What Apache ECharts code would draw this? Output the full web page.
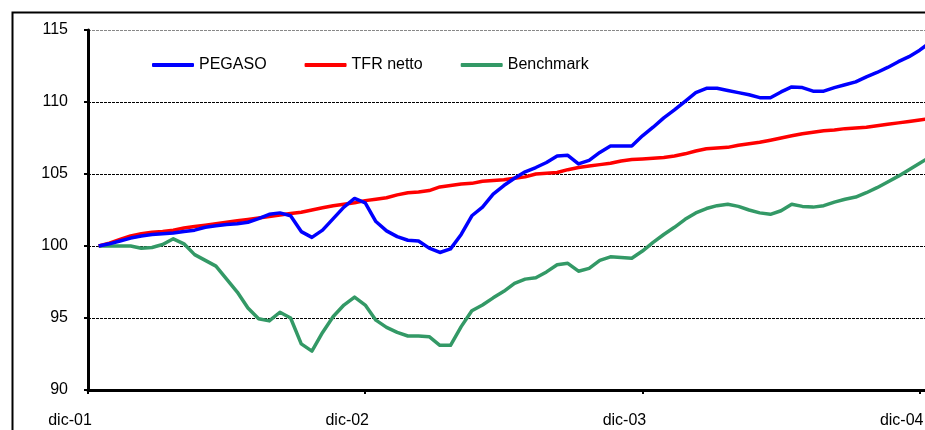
<!DOCTYPE html>
<html>
<head>
<meta charset="utf-8">
<script src="https://cdn.jsdelivr.net/npm/echarts@6/dist/echarts.min.js"></script>
<style>
  html, body { margin: 0; padding: 0; background: #fff; }
  #main { width: 925px; height: 430px; }
</style>
</head>
<body>
<div id="main"></div>
<script>
// weeks since dic-01
const weeks = [2,4,6,8,10,12,14,16,18,20,22,24,26,28,30,32,34,36,38,40,42,44,46,48,50,52,54,56,58,60,62,64,66,68,70,72,74,76,78,80,82,84,86,88,90,92,94,96,98,100,102,104,106,108,110,112,114,116,118,120,122,124,126,128,130,132,134,136,138,140,142,144,146,148,150,152,154,156,158];
const tickLabels = ['dic-01', 'dic-02', 'dic-03', 'dic-04'];
const seriesNames = ['PEGASO', 'TFR netto', 'Benchmark'];

const pegaso = [100.0,100.15,100.35,100.55,100.7,100.8,100.85,100.9,101.0,101.1,101.3,101.4,101.5,101.55,101.65,101.9,102.2,102.3,102.1,101.0,100.6,101.1,101.9,102.7,103.3,103.0,101.7,101.05,100.65,100.4,100.35,99.85,99.55,99.8,100.8,102.1,102.7,103.6,104.2,104.7,105.15,105.45,105.8,106.25,106.3,105.7,105.95,106.5,106.95,106.95,106.95,107.65,108.25,108.9,109.45,110.05,110.65,110.95,110.95,110.8,110.65,110.5,110.3,110.3,110.7,111.05,111.0,110.75,110.75,111.0,111.2,111.4,111.75,112.05,112.4,112.8,113.15,113.6,114.15];
const tfr = [100.0,100.2,100.45,100.7,100.85,100.95,101.0,101.1,101.25,101.35,101.45,101.55,101.65,101.75,101.85,101.95,102.05,102.15,102.25,102.35,102.5,102.65,102.8,102.9,103.0,103.15,103.25,103.35,103.55,103.7,103.75,103.85,104.1,104.2,104.3,104.35,104.5,104.55,104.6,104.7,104.8,105.0,105.05,105.1,105.3,105.45,105.55,105.65,105.75,105.9,106.0,106.05,106.1,106.15,106.25,106.4,106.6,106.75,106.8,106.85,107.0,107.1,107.2,107.35,107.5,107.65,107.8,107.9,108.0,108.05,108.15,108.2,108.25,108.35,108.45,108.55,108.65,108.75,108.85];
const benchmark = [100.0,100.0,100.0,100.0,99.85,99.9,100.1,100.5,100.15,99.4,99.0,98.6,97.7,96.8,95.7,94.95,94.8,95.4,95.0,93.2,92.7,94.0,95.1,95.9,96.45,95.9,94.85,94.35,94.0,93.75,93.75,93.7,93.1,93.1,94.4,95.5,95.9,96.4,96.85,97.4,97.7,97.8,98.2,98.7,98.8,98.25,98.45,99.0,99.25,99.2,99.15,99.65,100.25,100.8,101.3,101.85,102.3,102.6,102.8,102.9,102.75,102.5,102.3,102.2,102.45,102.9,102.75,102.7,102.8,103.05,103.25,103.4,103.7,104.05,104.45,104.85,105.3,105.75,106.2];

const colors = ['#0000ff', '#ff0000', '#339966'];
const font = 'Liberation Sans, Arial, sans-serif';

function pairs(vals) {
  return vals.map((v, i) => [weeks[i], v]);
}

let myChart = echarts.init(document.getElementById('main'));

let option = {
  animation: false,
  backgroundColor: '#fff',
  textStyle: { fontFamily: font, color: '#000' },
  graphic: [
    {
      type: 'rect',
      left: 10, top: 10,
      shape: { width: 1000, height: 500 },
      style: { fill: 'none', stroke: '#000', lineWidth: 2 },
      silent: true
    }
  ],
  grid: { left: 88, top: 30, width: 853, height: 360, outerBoundsMode: 'none' },
  legend: {
    left: 152,
    top: 57,
    padding: 0,
    itemWidth: 42,
    itemHeight: 4,
    itemGap: 38,
    icon: 'roundRect',
    textStyle: { fontFamily: font, fontSize: 16, color: '#000' },
    data: seriesNames
  },
  xAxis: {
    type: 'value',
    min: 0,
    max: 160,
    interval: 52,
    axisLine: { show: true, onZero: false, lineStyle: { color: '#000', width: 3 } },
    axisTick: { show: true, length: 4, lineStyle: { color: '#000', width: 2 } },
    splitLine: { show: false },
    axisLabel: {
      fontFamily: font,
      fontSize: 16,
      color: '#000',
      margin: 23,
      padding: [0, 36, 0, 0],
      showMaxLabel: false,
      formatter: function (v) {
        return v % 52 === 0 ? tickLabels[v / 52] : '';
      }
    }
  },
  yAxis: {
    type: 'value',
    min: 90,
    max: 115,
    interval: 5,
    axisLine: { show: true, lineStyle: { color: '#000', width: 3 } },
    axisTick: { show: true, length: 4, lineStyle: { color: '#000', width: 2 } },
    axisLabel: { fontFamily: font, fontSize: 16, color: '#000', margin: 20 },
    splitLine: {
      show: true,
      lineStyle: {
        color: ['#000', '#000', '#000', '#000', '#000', '#888'],
        width: 1,
        type: [3, 1]
      }
    }
  },
  series: [
    { name: seriesNames[0], type: 'line', data: pairs(pegaso) },
    { name: seriesNames[1], type: 'line', data: pairs(tfr) },
    { name: seriesNames[2], type: 'line', data: pairs(benchmark) }
  ].map((s, i) => Object.assign(s, {
    symbol: 'none',
    smooth: false,
    z: 3 - i,
    clip: false,
    itemStyle: { color: colors[i] },
    lineStyle: { color: colors[i], width: 3.5, join: 'round' }
  }))
};

myChart.setOption(option);
</script>
</body>
</html>
